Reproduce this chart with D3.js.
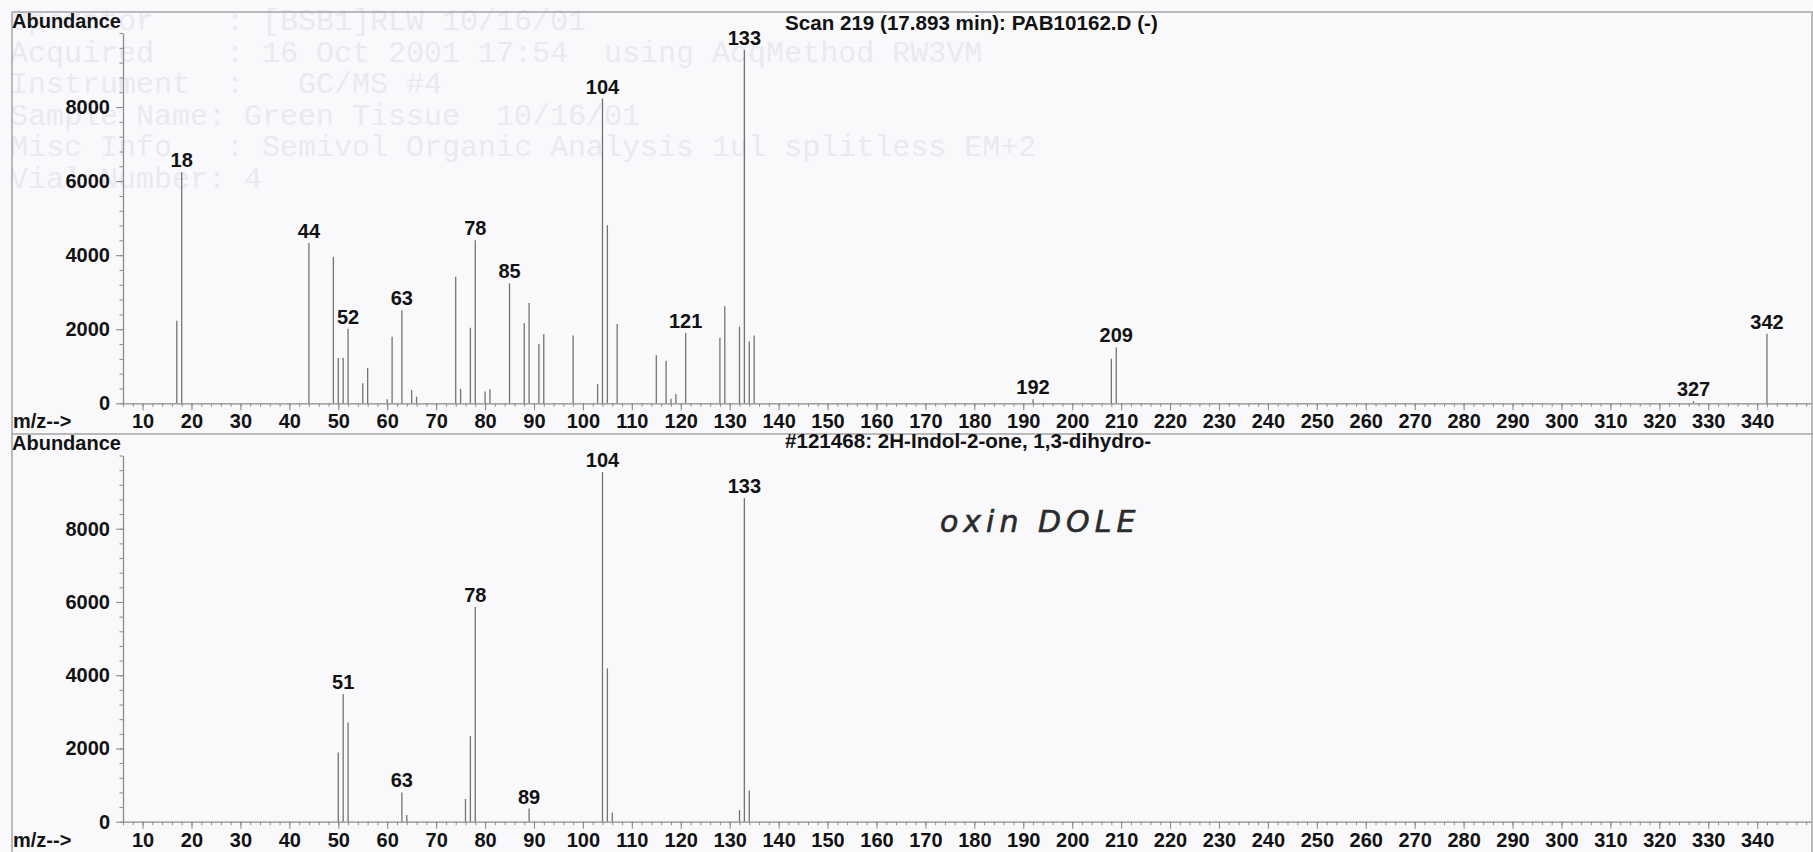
<!DOCTYPE html>
<html>
<head>
<meta charset="utf-8">
<script src="https://cdn.jsdelivr.net/npm/d3@7"></script>
<style>
  html, body { margin: 0; padding: 0; background: #f9f9fc; }
  svg { display: block; }
</style>
</head>
<body>
<svg id="chart" width="1813" height="852"></svg>
<script>
// ---- Upper spectrum: Scan 219 (17.893 min) ----
const scanMz = [17, 18, 44, 49, 50, 51, 52, 55, 56, 60, 61, 63, 65, 66, 74, 75, 77, 78, 80, 81,
                85, 88, 89, 91, 92, 98, 103, 104, 105, 107, 115, 117, 118, 119, 121, 128, 129,
                132, 133, 134, 135, 192, 208, 209, 327, 342];
const scanAbundance = [2230, 6240, 4330, 3950, 1220, 1230, 2010, 540, 950, 110, 1800, 2510, 360, 180, 3420, 390, 2040, 4400, 320, 380,
                       3240, 2170, 2710, 1600, 1870, 1830, 520, 8230, 4810, 2140, 1300, 1150, 120, 250, 1900, 1770, 2620,
                       2070, 9540, 1670, 1830, 110, 1200, 1510, 60, 1880];
const scanLabels = [18, 44, 52, 63, 78, 85, 104, 121, 133, 192, 209, 327, 342];

// ---- Lower spectrum: library entry #121468 ----
const refMz = [50, 51, 52, 63, 64, 76, 77, 78, 89, 104, 105, 106, 132, 133, 134];
const refAbundance = [1890, 3490, 2710, 800, 180, 620, 2340, 5860, 360, 9550, 4190, 250, 320, 8840, 850];
const refLabels = [51, 63, 78, 89, 104, 133];

// ---- Axes ----
const mzDomain = [6, 351];
const abundanceDomain = [0, 10000];
const xTickValues = [10, 20, 30, 40, 50, 60, 70, 80, 90, 100, 110, 120, 130, 140, 150, 160, 170, 180,
                     190, 200, 210, 220, 230, 240, 250, 260, 270, 280, 290, 300, 310, 320, 330, 340];
const yTickValues = [0, 2000, 4000, 6000, 8000];
const panelTitles = ["Scan 219 (17.893 min): PAB10162.D (-)", "#121468: 2H-Indol-2-one, 1,3-dihydro-"];
const yAxisTitle = "Abundance";
const xAxisTitle = "m/z-->";
const handNote = "oxin DOLE";

// faint print-through of the report header on the page
const headerLines = [
  "Operator    : [BSB1]RLW 10/16/01",
  "Acquired    : 16 Oct 2001 17:54  using AcqMethod RW3VM",
  "Instrument  :   GC/MS #4",
  "Sample Name: Green Tissue  10/16/01",
  "Misc Info   : Semivol Organic Analysis 1ul splitless EM+2",
  "Vial Number: 4"
];

const FONT = '"Liberation Sans", Arial, Helvetica, sans-serif';
const INK = "#121212";
const AXIS = "#8c8c8c";
const PEAK = "#737373";
const FRAME = "#a4a4a8";

const svg = d3.select("#chart");
svg.append("rect").attr("width", 1813).attr("height", 852).attr("fill", "#f9f9fc");

// print-through header
svg.append("g")
  .selectAll("text")
  .data(headerLines)
  .join("text")
  .attr("x", 10)
  .attr("y", (d, i) => 30 + i * 31.6)
  .attr("font-family", '"Liberation Mono", "DejaVu Sans Mono", monospace')
  .attr("font-size", 30)
  .attr("fill", "#e9eaf0")
  .style("white-space", "pre")
  .text(d => d);

// page frame and panel separator
const frame = svg.append("g").attr("stroke", FRAME).attr("stroke-width", 1.5).attr("fill", "none");
frame.append("line").attr("x1", 12).attr("x2", 1813).attr("y1", 12).attr("y2", 12);
frame.append("line").attr("x1", 12).attr("x2", 12).attr("y1", 12).attr("y2", 852);
frame.append("line").attr("x1", 12).attr("x2", 1813).attr("y1", 434).attr("y2", 434);
frame.append("line").attr("x1", 1812).attr("x2", 1812).attr("y1", 12).attr("y2", 852);

const x = d3.scaleLinear().domain(mzDomain).range([123, 1811]);

const panels = [
  { mz: scanMz, ab: scanAbundance, labels: scanLabels, title: panelTitles[0],
    y: d3.scaleLinear().domain(abundanceDomain).range([403.3, 33]), titleY: 30, headY: 28 },
  { mz: refMz, ab: refAbundance, labels: refLabels, title: panelTitles[1],
    y: d3.scaleLinear().domain(abundanceDomain).range([821.7, 455.5]), titleY: 448, headY: 450 }
];

function styleAxis(g) {
  g.attr("font-family", FONT).attr("font-size", 20).attr("font-weight", "bold");
  g.selectAll(".domain").attr("stroke", AXIS).attr("stroke-width", 1.3);
  g.selectAll(".tick line").attr("stroke", AXIS).attr("stroke-width", 1.1);
  g.selectAll(".tick text").attr("fill", INK);
}

panels.forEach(p => {
  const g = svg.append("g");
  const base = p.y(0);

  // minor ticks
  g.append("g")
    .attr("transform", `translate(0,${base})`)
    .call(d3.axisBottom(x).tickValues(d3.range(6, 351, 2)).tickSize(3.5).tickFormat(""))
    .call(a => { a.select(".domain").remove(); a.selectAll("line").attr("stroke", AXIS); });
  g.append("g")
    .attr("transform", `translate(${x(mzDomain[0])},0)`)
    .call(d3.axisLeft(p.y).tickValues(d3.range(0, 10001, 400)).tickSize(3.5).tickFormat(""))
    .call(a => { a.select(".domain").remove(); a.selectAll("line").attr("stroke", AXIS); });

  // major axes
  g.append("g")
    .attr("transform", `translate(0,${base})`)
    .call(d3.axisBottom(x).tickValues(xTickValues).tickFormat(d3.format("d"))
      .tickSize(7).tickSizeOuter(0).tickPadding(4))
    .call(styleAxis);
  g.append("g")
    .attr("transform", `translate(${x(mzDomain[0])},0)`)
    .call(d3.axisLeft(p.y).tickValues(yTickValues).tickFormat(d3.format("d"))
      .tickSize(7).tickSizeOuter(0).tickPadding(6))
    .call(styleAxis);

  // peaks
  const peaks = p.mz.map((m, i) => ({ mz: m, v: p.ab[i] }));
  g.append("g")
    .selectAll("line")
    .data(peaks)
    .join("line")
    .attr("x1", d => x(d.mz)).attr("x2", d => x(d.mz))
    .attr("y1", base).attr("y2", d => p.y(d.v))
    .attr("stroke", PEAK).attr("stroke-width", 1.3);

  // peak labels
  const labelled = peaks.filter(d => p.labels.includes(d.mz));
  g.append("g")
    .selectAll("text")
    .data(labelled)
    .join("text")
    .attr("x", d => x(d.mz))
    .attr("y", d => p.y(d.v) - 5)
    .attr("text-anchor", "middle")
    .attr("font-family", FONT).attr("font-size", 20).attr("font-weight", "bold")
    .attr("fill", INK)
    .text(d => d.mz);

  // headings
  g.append("text")
    .attr("x", 12).attr("y", p.headY)
    .attr("font-family", FONT).attr("font-size", 20).attr("font-weight", "bold").attr("fill", INK)
    .text(yAxisTitle);
  g.append("text")
    .attr("x", 13).attr("y", base + 25)
    .attr("font-family", FONT).attr("font-size", 20).attr("font-weight", "bold").attr("fill", INK)
    .text(xAxisTitle);
  g.append("text")
    .attr("x", 785).attr("y", p.titleY)
    .attr("font-family", FONT).attr("font-size", 20.6).attr("font-weight", "bold").attr("fill", INK)
    .text(p.title);
});

// handwritten note on the library spectrum
svg.append("text")
  .attr("x", 940).attr("y", 532)
  .attr("font-family", '"DejaVu Sans", sans-serif')
  .attr("font-style", "italic")
  .attr("font-size", 30)
  .attr("letter-spacing", 5)
  .attr("fill", "#2b2b2b")
  .attr("stroke", "#2b2b2b").attr("stroke-width", 0.6)
  .text(handNote);
</script>
</body>
</html>
